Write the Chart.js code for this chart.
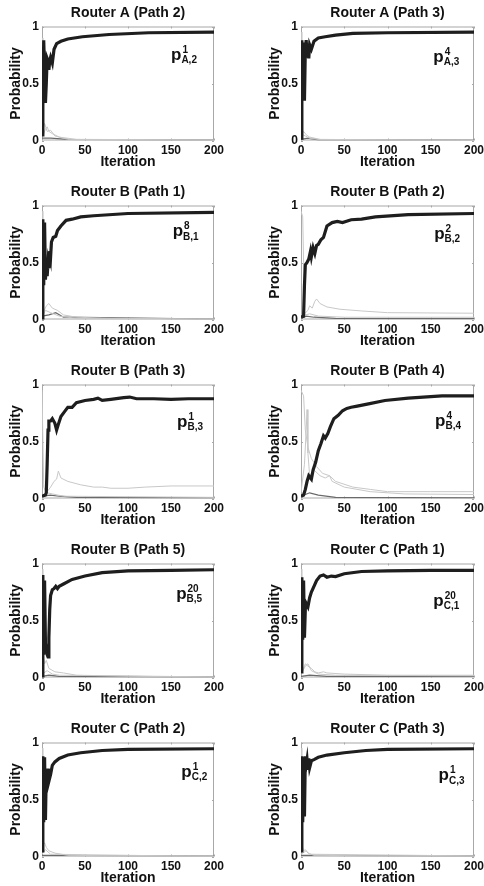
<!DOCTYPE html>
<html>
<head>
<meta charset="utf-8">
<script src="https://cdn.jsdelivr.net/npm/chart.js@4.4.1/dist/chart.umd.min.js"></script>
<style>
html, body { margin: 0; padding: 0; background: #fff; width: 484px; height: 886px; overflow: hidden; position: relative; }
canvas { position: absolute; }
</style>
</head>
<body>
<script>
// panel titles and the p labels written inside each panel
const titles = ['Router A (Path 2)', 'Router A (Path 3)', 'Router B (Path 1)', 'Router B (Path 2)', 'Router B (Path 3)',
  'Router B (Path 4)', 'Router B (Path 5)', 'Router C (Path 1)', 'Router C (Path 2)', 'Router C (Path 3)']
const supLabels = ['1', '4', '8', '2', '1', '4', '20', '20', '1', '1']
const subLabels = ['A,2', 'A,3', 'B,1', 'B,2', 'B,3', 'B,4', 'B,5', 'C,1', 'C,2', 'C,3']
// where the "p" sits, as [iteration, probability]
const labelAt = [[150, 0.71], [153, 0.69], [152, 0.73], [154, 0.71], [157, 0.63], [155, 0.64], [156, 0.69], [153, 0.63], [162, 0.7], [159, 0.67]]

const xTickValues = [0, 50, 100, 150, 200]
const yTickValues = [0, 0.5, 1]

// [iteration, probability]
const a2Main = [[0, 0.05], [1, 0.3], [2, 0.88], [3, 0.6], [4, 0.33], [5, 0.5], [6, 0.72], [7, 0.7], [8, 0.62], [9, 0.7], [10, 0.73], [12, 0.68], [14, 0.8], [17, 0.85], [22, 0.87], [30, 0.89], [47, 0.91], [78, 0.93], [124, 0.945], [200, 0.95]]
const a2Light = [[0, 0.9], [1, 0.5], [2, 0.06], [4, 0.1], [6, 0.12], [8, 0.08], [12, 0.06], [20, 0.03], [40, 0.01], [200, 0.005]]
const a2Light2 = [[0, 0.05], [3, 0.15], [6, 0.08], [10, 0.09], [15, 0.04], [30, 0.01], [200, 0]]
const a2Dark = [[0, 0.02], [10, 0.02], [30, 0.01], [200, 0.003]]

const a3Main = [[0, 0.02], [1, 0.88], [2, 0.4], [3, 0.86], [4, 0.35], [5, 0.8], [6, 0.88], [7, 0.74], [8, 0.85], [9, 0.72], [10, 0.84], [12, 0.8], [15, 0.87], [20, 0.9], [28, 0.91], [40, 0.925], [60, 0.94], [100, 0.945], [200, 0.95]]
const a3Light = [[0, 0.95], [1, 0.1], [2, 0.05], [5, 0.04], [10, 0.02], [20, 0.01], [200, 0]]
const a3Light2 = [[0, 0.03], [3, 0.08], [6, 0.05], [10, 0.03], [25, 0.005], [200, 0]]
const a3Dark = [[0, 0.01], [8, 0.02], [20, 0.005], [200, 0.002]]

const b1Main = [[0, 0], [1, 0.88], [2, 0.3], [3, 0.85], [4, 0.35], [5, 0.5], [6, 0.38], [7, 0.5], [8, 0.45], [9, 0.6], [10, 0.55], [11, 0.68], [13, 0.72], [16, 0.73], [18, 0.78], [22, 0.82], [28, 0.87], [35, 0.88], [45, 0.9], [60, 0.91], [100, 0.93], [200, 0.94]]
const b1Light = [[0, 0.95], [1, 0.05], [5, 0.12], [8, 0.14], [12, 0.1], [18, 0.08], [25, 0.04], [40, 0.02], [80, 0.01], [200, 0.005]]
const b1Light2 = [[0, 0.02], [4, 0.08], [10, 0.06], [20, 0.03], [40, 0.01], [200, 0]]
const b1Dark = [[0, 0.03], [8, 0.04], [16, 0.06], [25, 0.02], [200, 0.003]]

const b2Main = [[0, 0.02], [3, 0.03], [4, 0.3], [5, 0.48], [7, 0.5], [9, 0.53], [11, 0.6], [12, 0.55], [14, 0.63], [16, 0.58], [18, 0.65], [20, 0.66], [23, 0.7], [26, 0.72], [30, 0.82], [36, 0.85], [42, 0.86], [48, 0.85], [58, 0.875], [70, 0.88], [86, 0.9], [124, 0.92], [200, 0.93]]
const b2Light = [[0, 0.95], [2, 0.9], [3, 0.5], [4, 0.05], [8, 0.08], [10, 0.12], [13, 0.1], [16, 0.16], [18, 0.18], [22, 0.14], [30, 0.11], [45, 0.09], [70, 0.075], [100, 0.06], [200, 0.055]]
const b2Light2 = [[0, 0.01], [5, 0.04], [10, 0.05], [20, 0.03], [50, 0.02], [200, 0.02]]
const b2Dark = [[0, 0.01], [6, 0.03], [15, 0.02], [40, 0.01], [200, 0.008]]

const b3Main = [[0, 0.02], [4, 0.03], [5, 0.05], [6, 0.3], [7, 0.6], [8, 0.68], [10, 0.68], [12, 0.7], [15, 0.66], [17, 0.6], [19, 0.65], [22, 0.72], [26, 0.76], [30, 0.8], [35, 0.8], [40, 0.84], [50, 0.86], [60, 0.87], [65, 0.88], [70, 0.86], [80, 0.87], [95, 0.885], [102, 0.89], [110, 0.875], [130, 0.875], [150, 0.87], [170, 0.875], [200, 0.875]]
const b3Light = [[0, 0.95], [2, 0.1], [5, 0.05], [10, 0.1], [14, 0.15], [17, 0.17], [19, 0.24], [22, 0.18], [30, 0.15], [45, 0.12], [60, 0.1], [70, 0.1], [80, 0.09], [100, 0.09], [120, 0.1], [150, 0.11], [200, 0.11]]
const b3Light2 = [[0, 0.03], [6, 0.05], [12, 0.04], [25, 0.02], [200, 0.01]]
const b3Dark = [[0, 0.02], [10, 0.03], [20, 0.02], [40, 0.01], [200, 0.005]]

const b4Main = [[0, 0.02], [3, 0.03], [5, 0.08], [7, 0.15], [9, 0.2], [12, 0.17], [14, 0.25], [17, 0.32], [20, 0.42], [23, 0.48], [26, 0.55], [28, 0.53], [31, 0.57], [34, 0.63], [38, 0.7], [43, 0.73], [48, 0.77], [53, 0.79], [58, 0.8], [65, 0.81], [78, 0.83], [97, 0.86], [124, 0.88], [163, 0.9], [200, 0.9]]
const b4Light = [[0, 0.95], [3, 0.9], [5, 0.6], [8, 0.45], [12, 0.35], [18, 0.28], [25, 0.22], [33, 0.2], [40, 0.15], [60, 0.1], [80, 0.08], [100, 0.06], [150, 0.06], [200, 0.06]]
const b4Light2 = [[0, 0.05], [4, 0.3], [6, 0.6], [7, 0.78], [8, 0.4], [10, 0.2], [15, 0.25], [22, 0.2], [28, 0.18], [33, 0.2], [36, 0.15], [50, 0.1], [80, 0.06], [120, 0.04], [200, 0.035]]
const b4Dark = [[0, 0.02], [10, 0.05], [20, 0.03], [40, 0.01], [200, 0.005]]

const b5Main = [[0, 0], [1, 0.9], [2, 0.2], [3, 0.85], [4, 0.3], [5, 0.25], [6, 0.2], [7, 0.18], [8, 0.35], [9, 0.6], [10, 0.72], [12, 0.77], [14, 0.78], [16, 0.8], [18, 0.78], [20, 0.8], [25, 0.82], [35, 0.86], [50, 0.89], [70, 0.92], [100, 0.935], [150, 0.94], [200, 0.945]]
const b5Light = [[0, 0.95], [1, 0.2], [3, 0.12], [5, 0.15], [8, 0.08], [15, 0.05], [25, 0.04], [40, 0.02], [200, 0]]
const b5Light2 = [[0, 0.03], [6, 0.06], [12, 0.03], [20, 0.02], [200, 0.005]]
const b5Dark = [[0, 0.01], [8, 0.02], [20, 0.01], [200, 0.003]]

const c1Main = [[0, 0.05], [1, 0.88], [2, 0.33], [3, 0.85], [4, 0.35], [5, 0.6], [6, 0.65], [8, 0.62], [10, 0.7], [12, 0.75], [15, 0.8], [18, 0.85], [22, 0.89], [26, 0.9], [30, 0.88], [35, 0.89], [40, 0.885], [50, 0.91], [70, 0.93], [100, 0.935], [150, 0.94], [200, 0.94]]
const c1Light = [[0, 0.95], [1, 0.1], [3, 0.08], [5, 0.12], [8, 0.1], [12, 0.08], [16, 0.05], [20, 0.04], [26, 0.05], [30, 0.04], [50, 0.03], [100, 0.02], [200, 0.02]]
const c1Light2 = [[0, 0.03], [5, 0.1], [8, 0.12], [12, 0.06], [20, 0.03], [40, 0.02], [200, 0.015]]
const c1Dark = [[0, 0.01], [10, 0.02], [30, 0.01], [200, 0.01]]

const c2Main = [[0, 0.05], [1, 0.88], [2, 0.3], [3, 0.87], [4, 0.32], [5, 0.75], [6, 0.68], [7, 0.77], [8, 0.66], [10, 0.72], [12, 0.8], [15, 0.83], [20, 0.86], [30, 0.89], [45, 0.91], [70, 0.93], [100, 0.94], [200, 0.945]]
const c2Light = [[0, 0.95], [1, 0.1], [3, 0.12], [5, 0.08], [8, 0.05], [15, 0.03], [30, 0.01], [200, 0]]
const c2Light2 = [[0, 0.02], [4, 0.06], [10, 0.02], [200, 0]]
const c2Dark = [[0, 0.01], [8, 0.01], [200, 0.002]]

const c3Main = [[0, 0.05], [1, 0.88], [2, 0.3], [3, 0.87], [4, 0.35], [5, 0.88], [6, 0.8], [7, 0.85], [8, 0.76], [9, 0.86], [10, 0.78], [12, 0.84], [15, 0.85], [20, 0.87], [30, 0.89], [50, 0.91], [75, 0.93], [100, 0.94], [200, 0.945]]
const c3Light = [[0, 0.95], [1, 0.1], [3, 0.05], [5, 0.06], [8, 0.03], [15, 0.01], [200, 0]]
const c3Light2 = [[0, 0.02], [6, 0.05], [10, 0.02], [200, 0.005]]
const c3Dark = [[0, 0.01], [10, 0.01], [200, 0.003]]

const mainSeries = [a2Main, a3Main, b1Main, b2Main, b3Main, b4Main, b5Main, c1Main, c2Main, c3Main]
const lightSeries = [[a2Light, a2Light2], [a3Light, a3Light2], [b1Light, b1Light2], [b2Light, b2Light2], [b3Light, b3Light2],
  [b4Light, b4Light2], [b5Light, b5Light2], [c1Light, c1Light2], [c2Light, c2Light2], [c3Light, c3Light2]]
const darkSeries = [a2Dark, a3Dark, b1Dark, b2Dark, b3Dark, b4Dark, b5Dark, c1Dark, c2Dark, c3Dark]

const FONT = '"Liberation Sans", Arial, Helvetica, sans-serif'
const toXY = (pts) => pts.map(([x, y]) => ({ x, y }))

// box around the axes with small inward ticks, like matlab
const framePlugin = {
  id: 'frame',
  beforeDatasetsDraw(chart) {
    const { ctx, chartArea: a, scales: { x, y } } = chart
    ctx.save()
    ctx.strokeStyle = '#a8a8a8'
    ctx.lineWidth = 1
    ctx.strokeRect(a.left + 0.5, a.top + 0.5, a.right - a.left - 1, a.bottom - a.top - 1)
    ctx.beginPath()
    xTickValues.forEach(v => {
      const px = Math.round(x.getPixelForValue(v)) + 0.5
      ctx.moveTo(px, a.bottom); ctx.lineTo(px, a.bottom - 2)
      ctx.moveTo(px, a.top); ctx.lineTo(px, a.top + 2)
    })
    yTickValues.forEach(v => {
      const py = Math.round(y.getPixelForValue(v)) + 0.5
      ctx.moveTo(a.left, py); ctx.lineTo(a.left + 2, py)
      ctx.moveTo(a.right, py); ctx.lineTo(a.right - 2, py)
    })
    ctx.stroke()
    ctx.restore()
  },
  afterDatasetsDraw(chart, args, opts) {
    const { ctx, scales: { x, y } } = chart
    const px = x.getPixelForValue(opts.at[0])
    const py = y.getPixelForValue(opts.at[1])
    ctx.save()
    ctx.fillStyle = '#111'
    ctx.textBaseline = 'alphabetic'
    ctx.font = 'bold 17px ' + FONT
    ctx.fillText('p', px, py)
    const w = ctx.measureText('p').width
    ctx.font = 'bold 10px ' + FONT
    ctx.fillText(opts.sup, px + w + 1, py - 7)
    ctx.fillText(opts.sub, px + w, py + 3.5)
    ctx.restore()
  }
}

titles.forEach((title, i) => {
  const col = i % 2
  const row = Math.floor(i / 2)
  const canvas = document.createElement('canvas')
  const w = col === 0 ? 242 : 248
  canvas.width = w
  canvas.height = 179
  canvas.style.left = (col * 242) + 'px'
  canvas.style.top = (row * 179) + 'px'
  canvas.style.width = w + 'px'
  canvas.style.height = '179px'
  document.body.appendChild(canvas)

  const datasets = [{
    data: toXY(mainSeries[i]),
    borderColor: '#1e1e1e',
    borderWidth: 3.2,
  }]
  lightSeries[i].forEach(s => datasets.push({ data: toXY(s), borderColor: '#c8c8c8', borderWidth: 1 }))
  datasets.push({ data: toXY(darkSeries[i]), borderColor: '#6a6a6a', borderWidth: 1.2 })

  new Chart(canvas.getContext('2d'), {
    type: 'line',
    data: { datasets: datasets },
    options: {
      responsive: false,
      animation: false,
      events: [],
      layout: { padding: col === 0 ? { left: 0, right: 28, top: 0, bottom: 0 } : { left: 17, right: 16, top: 0, bottom: 0 } },
      elements: { point: { radius: 0 }, line: { tension: 0 } },
      plugins: {
        legend: { display: false },
        tooltip: { enabled: false },
        title: {
          display: true,
          fullSize: false,
          text: title,
          color: '#111',
          font: { size: 14, weight: 'bold', family: FONT },
          padding: { top: 5, bottom: 4.7 },
        },
        frame: { at: labelAt[i], sup: supLabels[i], sub: subLabels[i] },
      },
      scales: {
        x: {
          type: 'linear',
          min: 0,
          max: 200,
          grid: { display: false, drawTicks: false },
          border: { display: false },
          afterBuildTicks: (scale) => { scale.ticks = xTickValues.map(v => ({ value: v })) },
          afterFit: (scale) => { scale.height = 38.5 },
          ticks: { color: '#111', padding: 3, maxRotation: 0, callback: (v) => String(v), font: { size: 12, weight: 'bold', family: FONT } },
          title: { display: true, text: 'Iteration', color: '#111', padding: { top: 0, bottom: 8 }, font: { size: 14, weight: 'bold', family: FONT } },
        },
        y: {
          min: 0,
          max: 1,
          grid: { display: false, drawTicks: false },
          border: { display: false },
          afterBuildTicks: (scale) => { scale.ticks = yTickValues.map(v => ({ value: v })) },
          afterFit: (scale) => { scale.width = 42 },
          ticks: { color: '#111', padding: 3, callback: (v) => String(v), font: { size: 12, weight: 'bold', family: FONT } },
          title: { display: true, text: 'Probability', color: '#111', padding: { top: 7.6, bottom: 0 }, font: { size: 14, weight: 'bold', family: FONT } },
        },
      },
    },
    plugins: [framePlugin],
  })
})
</script>
</body>
</html>
